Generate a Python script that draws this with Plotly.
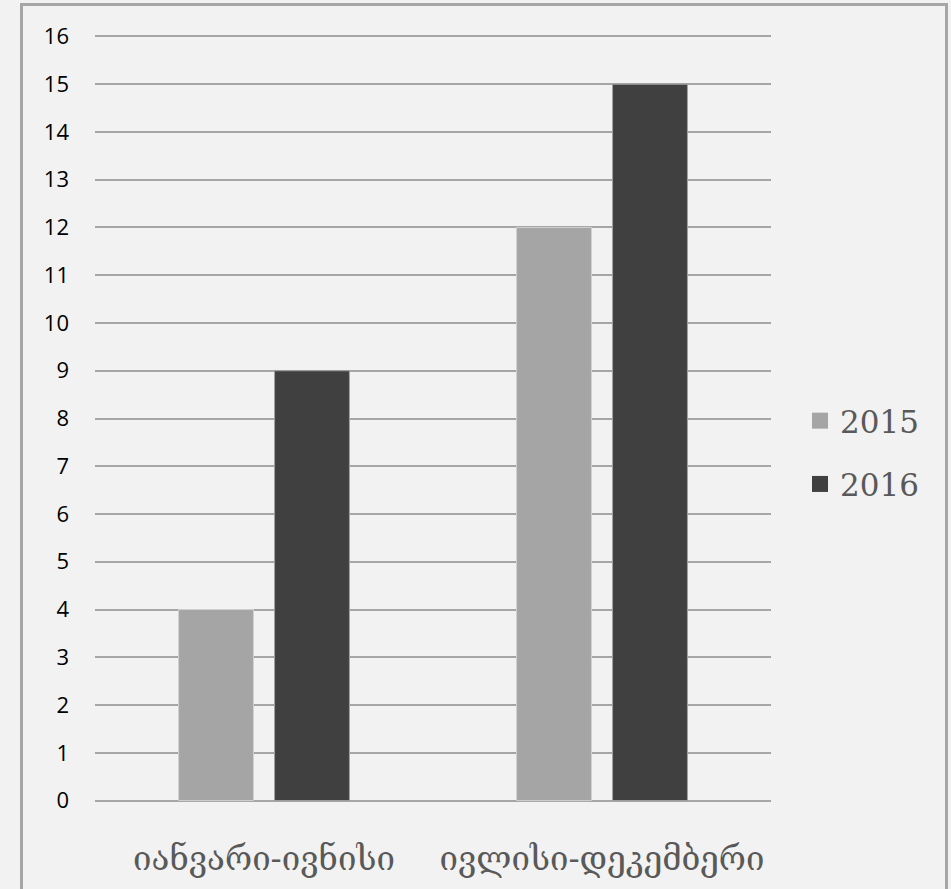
import plotly.graph_objects as go

# Half-year periods and the count recorded for each year
categories = ["იანვარი-ივნისი", "ივლისი-დეკემბერი"]
values_2015 = [4, 12]
values_2016 = [9, 15]
y_ticks = list(range(0, 17))
colors = {"2015": "#a5a5a5", "2016": "#404040"}

W, H = 951, 889
L, R, T, B = 95, 180, 35, 87
plot_w = W - L - R
plot_h = H - T - B


def px_to_paper_x(px):
    return (px - L) / plot_w


def px_to_paper_y(py):
    return (H - B - py) / plot_h


fig = go.Figure()
for name, vals, edge in [("2015", values_2015, "#d0d0d0"), ("2016", values_2016, "#a0a0a0")]:
    fig.add_trace(go.Bar(
        name=name, x=categories, y=vals, legendgroup=name, showlegend=False,
        marker=dict(color=colors[name], line=dict(color=edge, width=1)),
    ))
    # Legend entry with a larger square swatch
    fig.add_trace(go.Scatter(
        name=name, x=[None], y=[None], mode="markers", legendgroup=name,
        marker=dict(symbol="square", size=16, color=colors[name]),
        showlegend=True, hoverinfo="skip",
    ))

# Outer chart frame
fig.add_shape(
    type="rect", xref="paper", yref="paper",
    x0=px_to_paper_x(21.5), x1=px_to_paper_x(946.5),
    y0=px_to_paper_y(900), y1=px_to_paper_y(4.5),
    line=dict(color="#a6a6a6", width=3), fillcolor="rgba(0,0,0,0)",
    layer="below",
)

fig.update_layout(
    width=W, height=H,
    margin=dict(l=L, r=R, t=T, b=B),
    paper_bgcolor="#f2f2f2",
    plot_bgcolor="#f2f2f2",
    barmode="group",
    bargap=0.432,
    bargroupgap=0.22,
    showlegend=True,
    legend=dict(
        x=px_to_paper_x(800), y=px_to_paper_y(394),
        xanchor="left", yanchor="top",
        font=dict(family="DejaVu Serif", size=31, color="#595959"),
        bgcolor="rgba(0,0,0,0)",
        itemsizing="trace",
        itemwidth=30,
        tracegroupgap=20,
    ),
    xaxis=dict(
        showgrid=False, showline=False, zeroline=False,
        ticks="", ticklabelstandoff=34,
        tickfont=dict(family="DejaVu Serif", size=33, color="#595959"),
    ),
    yaxis=dict(
        range=[-0.03, 16.03], tickvals=y_ticks,
        showgrid=True, gridcolor="#a6a6a6", gridwidth=1.5,
        zeroline=False, showline=False, ticks="",
        ticklabelstandoff=25,
        tickfont=dict(family="Open Sans", size=22, color="#000000"),
    ),
)

fig.write_html("out.html")
